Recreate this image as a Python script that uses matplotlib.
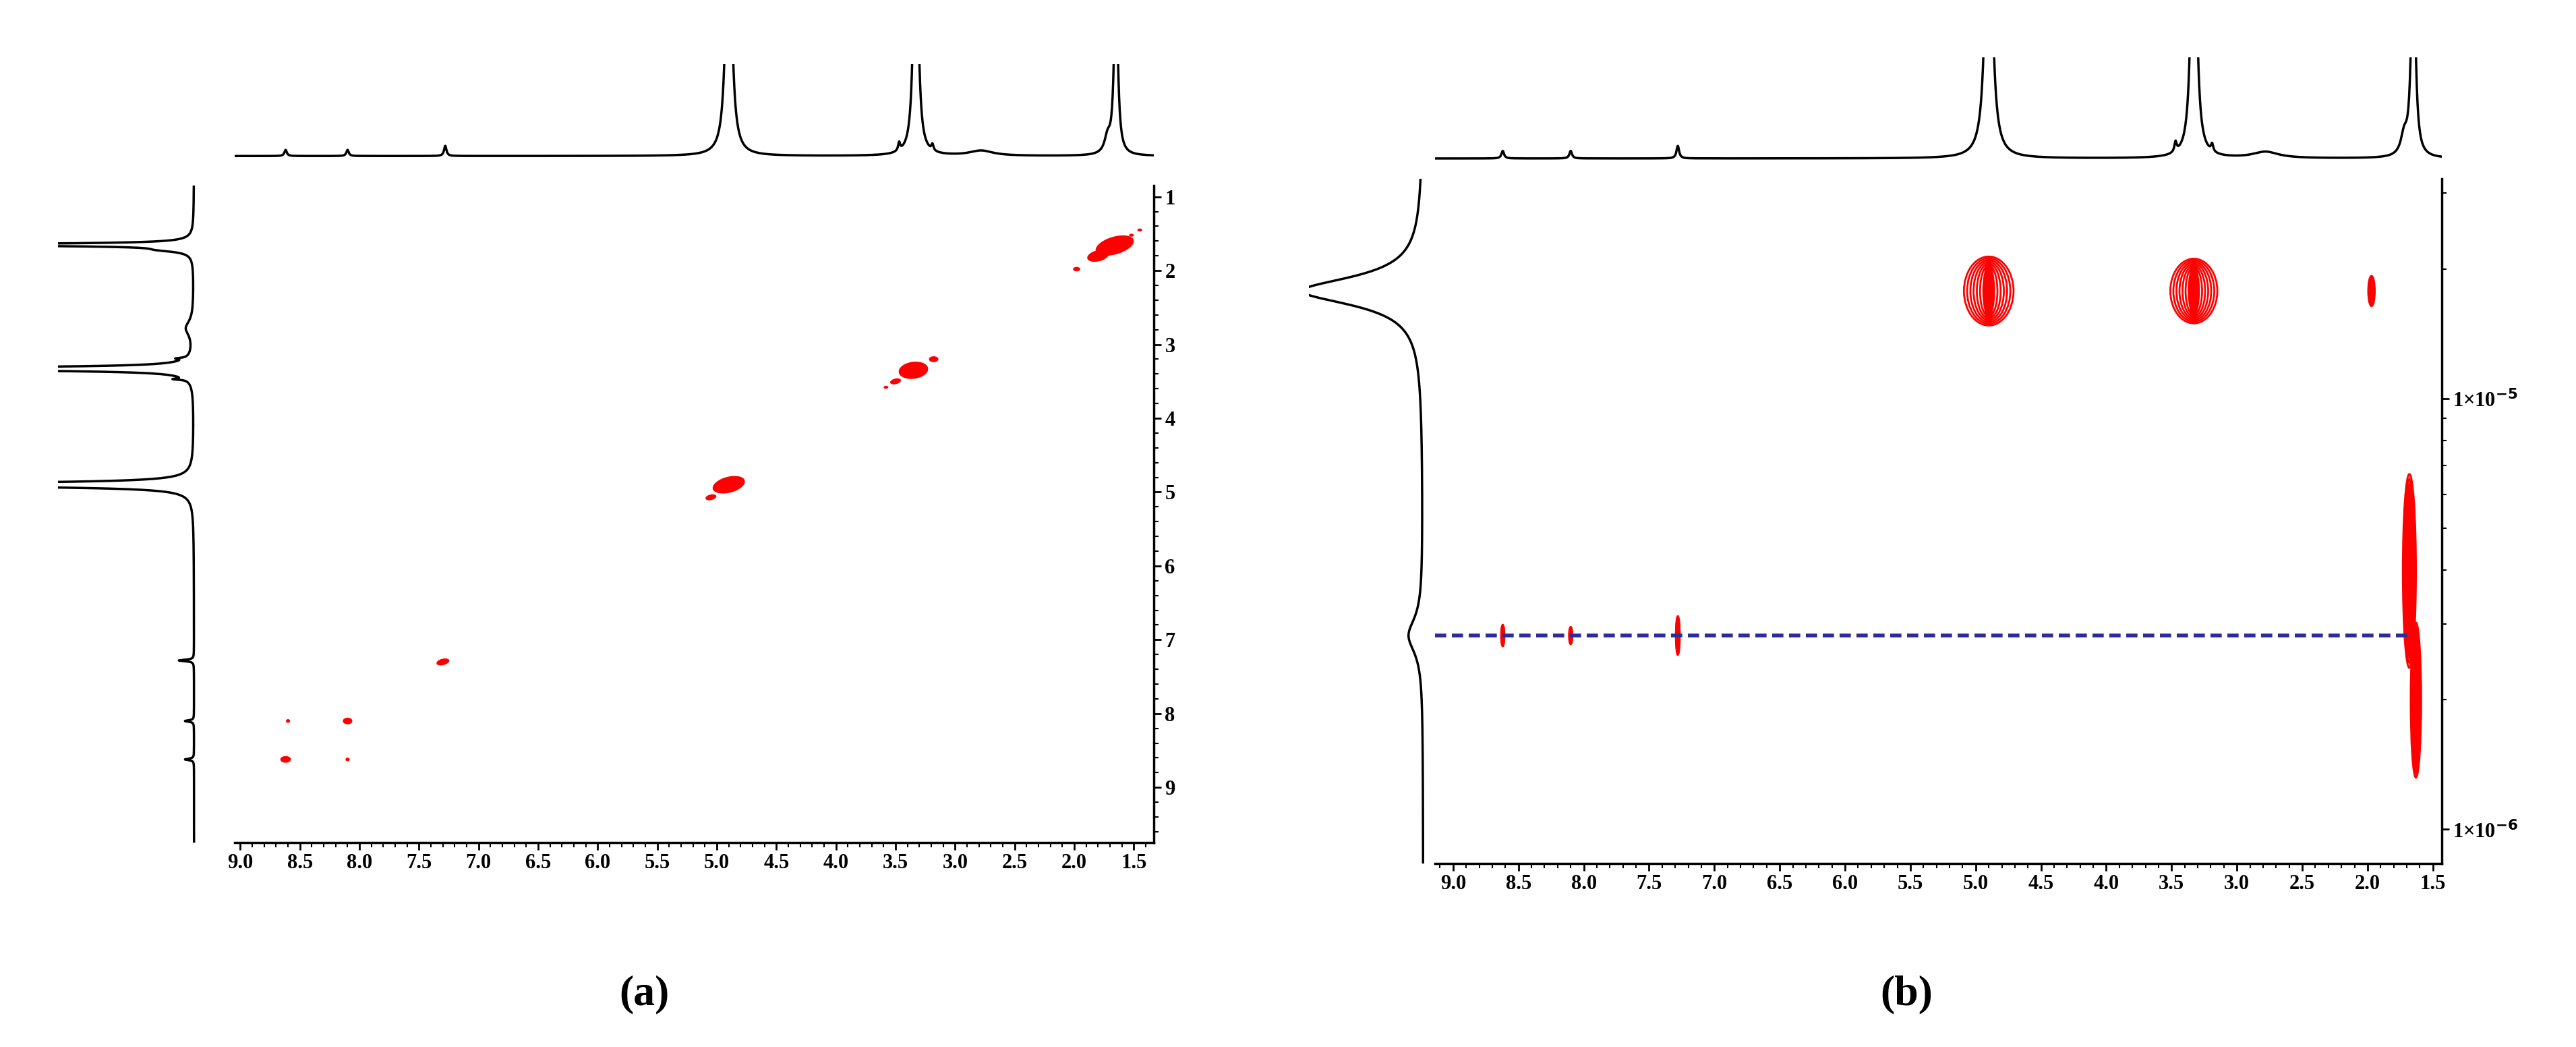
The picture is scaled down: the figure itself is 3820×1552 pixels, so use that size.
import numpy as np
import matplotlib
matplotlib.use('Agg')
import matplotlib.pyplot as plt
from matplotlib.patches import Ellipse

plt.rcParams['font.family'] = ['Liberation Serif', 'DejaVu Serif']
plt.rcParams['font.weight'] = 'bold'

# 1H spectrum: peak positions (ppm), heights, half widths
peak_ppm = [8.62, 8.10, 7.28, 4.90, 3.47, 3.33, 3.19, 2.78, 1.72, 1.65]
peak_height = [0.06, 0.06, 0.10, 3.0, 0.08, 3.0, 0.06, 0.05, 0.15, 1.8]
peak_width = [0.012, 0.012, 0.012, 0.025, 0.01, 0.02, 0.01, 0.12, 0.03, 0.018]

# panel (a) spots: x ppm, y ppm, width, height (ppm)
spot_x = [1.66, 1.80, 1.98, 1.45, 1.52, 3.35, 3.18, 3.50, 3.58, 4.90, 5.05, 7.30, 8.62, 8.10, 8.60, 8.10]
spot_y = [1.66, 1.80, 1.98, 1.45, 1.52, 3.35, 3.20, 3.50, 3.58, 4.90, 5.07, 7.30, 8.62, 8.10, 8.10, 8.62]
spot_w = [0.36, 0.20, 0.06, 0.04, 0.04, 0.26, 0.08, 0.10, 0.04, 0.30, 0.10, 0.12, 0.09, 0.08, 0.035, 0.035]
spot_h = [0.22, 0.14, 0.06, 0.04, 0.04, 0.22, 0.08, 0.07, 0.04, 0.20, 0.07, 0.08, 0.09, 0.09, 0.05, 0.05]

# panel (b) DOSY spots: ppm, log10 D centre, ppm width, log10 D span
dosy_ppm = [4.90, 3.33, 1.97, 1.68, 1.63, 8.62, 8.10, 7.28]
dosy_logd = [-4.75, -4.75, -4.75, -5.40, -5.70, -5.55, -5.55, -5.55]
dosy_w = [0.38, 0.36, 0.05, 0.10, 0.08, 0.025, 0.025, 0.03]
dosy_h = [0.16, 0.15, 0.07, 0.45, 0.36, 0.05, 0.04, 0.09]
blue_logd = -5.55

def spectrum(x):
    y = np.zeros_like(x)
    for p, h, w in zip(peak_ppm, peak_height, peak_width):
        y += h * w**2 / ((x - p)**2 + w**2)
    return y

fig = plt.figure(figsize=(38.2, 15.52), dpi=100)
tick_kw = dict(labelsize=22, width=2, length=8)

# ---------- panel (a) ----------
ax = fig.add_axes([0.091, 0.195, 0.357, 0.628])
for x, y, w, h in zip(spot_x, spot_y, spot_w, spot_h):
    ax.add_patch(Ellipse((x, y), w, h, angle=35 if w > h else 0, color='red', lw=0))
ax.set_xlim(9.05, 1.33)
ax.set_ylim(9.75, 0.845)
ax.xaxis.set_major_locator(plt.MultipleLocator(0.5))
ax.xaxis.set_minor_locator(plt.MultipleLocator(0.1))
ax.xaxis.set_major_formatter(plt.FormatStrFormatter('%.1f'))
ax.yaxis.set_major_locator(plt.MultipleLocator(1))
ax.yaxis.set_minor_locator(plt.MultipleLocator(0.2))
ax.yaxis.tick_right()
for s in ['top', 'left']:
    ax.spines[s].set_visible(False)
for s in ['bottom', 'right']:
    ax.spines[s].set_linewidth(2.5)
ax.tick_params(which='major', **tick_kw)
ax.tick_params(which='minor', width=1.5, length=5)

xs = np.linspace(1.33, 9.05, 3000)
top = fig.add_axes([0.091, 0.849, 0.357, 0.09])
top.plot(xs, spectrum(xs), color='black', lw=2.5)
top.set_xlim(9.05, 1.33)
top.set_ylim(-0.02, 0.9)
top.axis('off')

ys = np.linspace(0.845, 9.75, 3000)
left = fig.add_axes([0.0225, 0.195, 0.054, 0.628])
left.plot(spectrum(ys), ys, color='black', lw=2.5)
left.set_ylim(9.75, 0.845)
left.set_xlim(0.9, -0.02)
left.axis('off')
fig.text(0.25, 0.04, '(a)', fontsize=46, ha='center')

# ---------- panel (b) ----------
bx = fig.add_axes([0.557, 0.175, 0.391, 0.654])
for x, d, w, h in zip(dosy_ppm, dosy_logd, dosy_w, dosy_h):
    for k in range(7):
        f = 1 - k * 0.13
        bx.add_patch(Ellipse((x, d), w * f, h * (0.6 + 0.4 * f), fill=False, ec='red', lw=2))
    bx.add_patch(Ellipse((x, d), w * 0.2, h, color='red', lw=0))
bx.set_xlim(9.14, 1.43)
bx.set_ylim(-6.08, -4.49)
bx.axhline(blue_logd, xmin=0.0, xmax=0.97, color='#2b2b9a', lw=4, ls=(0, (3, 1.5)))
bx.xaxis.set_major_locator(plt.MultipleLocator(0.5))
bx.xaxis.set_minor_locator(plt.MultipleLocator(0.1))
bx.xaxis.set_major_formatter(plt.FormatStrFormatter('%.1f'))
bx.yaxis.tick_right()
bx.set_yticks([-5, -6])
bx.set_yticklabels(['1×10$^{-5}$', '1×10$^{-6}$'])
minor = [np.log10(m) + e for e in (-6, -5) for m in range(2, 10)]
bx.set_yticks([m for m in minor if -6.08 < m < -4.49], minor=True)
for s in ['top', 'left']:
    bx.spines[s].set_visible(False)
for s in ['bottom', 'right']:
    bx.spines[s].set_linewidth(2.5)
bx.tick_params(which='major', **tick_kw)
bx.tick_params(which='minor', width=1.5, length=5)

xs2 = np.linspace(1.43, 9.14, 3000)
top2 = fig.add_axes([0.557, 0.845, 0.391, 0.10])
top2.plot(xs2, spectrum(xs2), color='black', lw=2.5)
top2.set_xlim(9.14, 1.43)
top2.set_ylim(-0.03, 0.8)
top2.axis('off')

# diffusion projection
lg = np.linspace(-6.08, -4.49, 800)
proj = 1.0 / (1 + ((lg + 4.75) / 0.04)**2) + 0.12 / (1 + ((lg - blue_logd) / 0.05)**2)
left2 = fig.add_axes([0.508, 0.175, 0.045, 0.654])
left2.plot(proj, lg, color='black', lw=2.5)
left2.set_ylim(-6.08, -4.49)
left2.set_xlim(0.95, -0.01)
left2.axis('off')
fig.text(0.740, 0.04, '(b)', fontsize=46, ha='center')

fig.savefig('out.png', dpi=100, facecolor='white')
